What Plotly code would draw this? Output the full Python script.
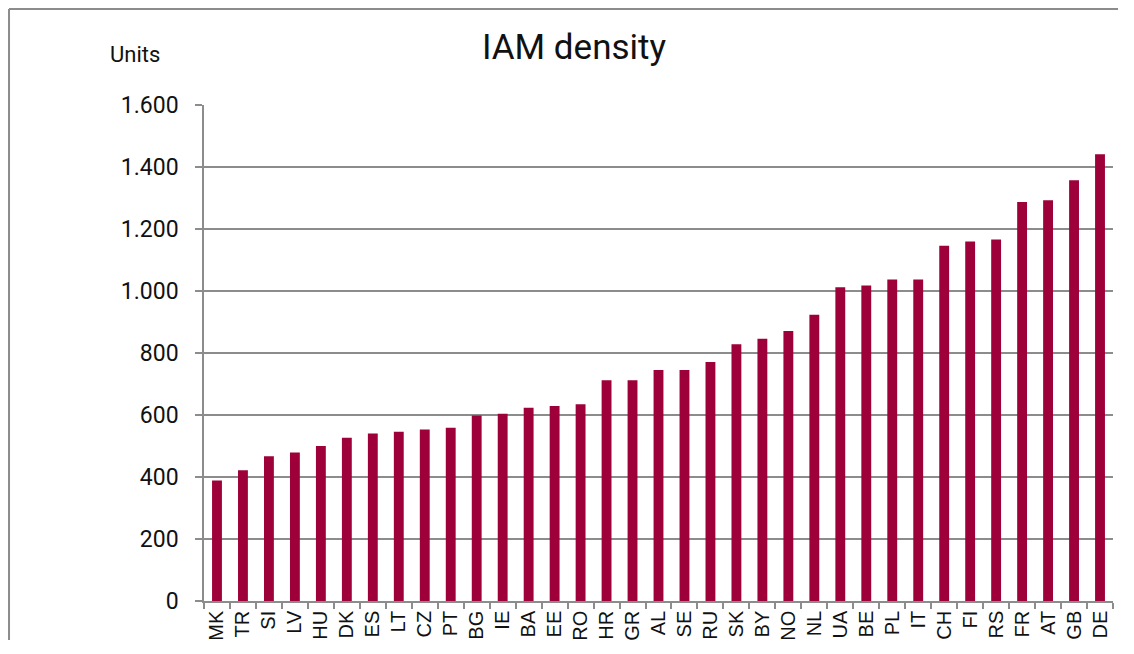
import plotly.graph_objects as go

countries = [
    "MK", "TR", "SI", "LV", "HU", "DK", "ES", "LT", "CZ", "PT", "BG", "IE",
    "BA", "EE", "RO", "HR", "GR", "AL", "SE", "RU", "SK", "BY", "NO", "NL",
    "UA", "BE", "PL", "IT", "CH", "FI", "RS", "FR", "AT", "GB", "DE",
]
density = [
    389, 422, 467, 479, 500, 527, 540, 546, 553, 559, 598, 604,
    623, 629, 635, 712, 712, 745, 745, 771, 828, 846, 871, 923,
    1012, 1018, 1037, 1037, 1146, 1160, 1166, 1287, 1293, 1357, 1441,
]
y_ticks = [0, 200, 400, 600, 800, 1000, 1200, 1400, 1600]

BAR_COLOR = "#9e0039"
GRID = "#8c8c8c"
TEXT = "#111111"

W, H = 1110, 632

fig = go.Figure(
    go.Bar(
        x=countries,
        y=density,
        marker={"color": BAR_COLOR, "line": {"width": 0}},
    )
)

# the page body adds an 8px margin, so keep the figure small enough to avoid scrollbars
fig.update_layout(
    width=W,
    height=H,
    margin={"l": 196, "r": W - 1105, "t": 97, "b": H - 593, "autoexpand": False},
    paper_bgcolor="white",
    plot_bgcolor="white",
    separators=",.",
    bargap=0.62,
    showlegend=False,
    font={"family": "Roboto, sans-serif", "color": TEXT},
    title={
        "text": "IAM density",
        "x": 566 / W,
        "xanchor": "center",
        "y": 1 - 39 / H,
        "yanchor": "middle",
        "font": {"size": 35, "family": "Roboto, sans-serif", "color": TEXT},
    },
)

fig.update_yaxes(
    range=[0, 1600],
    tickvals=y_ticks,
    tickformat=",d",
    tickfont={"size": 23, "family": "Roboto, sans-serif", "color": TEXT},
    showgrid=True,
    gridcolor=GRID,
    gridwidth=1.5,
    showline=True,
    linecolor=GRID,
    linewidth=1.5,
    ticks="outside",
    ticklen=7,
    tickcolor=GRID,
    tickwidth=1.5,
    ticklabelstandoff=12,
    zeroline=False,
    automargin=False,
)

fig.update_xaxes(
    tickangle=-90,
    tickfont={"size": 20, "family": "Liberation Sans, Arial, sans-serif", "color": TEXT},
    showline=True,
    linecolor=GRID,
    linewidth=1.5,
    ticks="outside",
    tickson="boundaries",
    ticklen=6,
    tickcolor=GRID,
    tickwidth=1.5,
    showgrid=False,
    automargin=False,
)

fig.add_annotation(
    text="Units",
    xref="paper",
    yref="paper",
    x=-0.076,
    y=1.101,
    xanchor="center",
    yanchor="middle",
    showarrow=False,
    font={"size": 22, "family": "Roboto, sans-serif", "color": TEXT},
)

# outer frame (left and top edges of the original chart box)
fig.add_shape(
    type="line", xref="paper", yref="paper",
    x0=-0.2145, x1=-0.2145, y0=1.1935, y1=-0.3,
    line={"color": GRID, "width": 2},
)
fig.add_shape(
    type="line", xref="paper", yref="paper",
    x0=-0.2145, x1=1.1, y0=1.1935, y1=1.1935,
    line={"color": GRID, "width": 2},
)

fig.write_html("out.html")
